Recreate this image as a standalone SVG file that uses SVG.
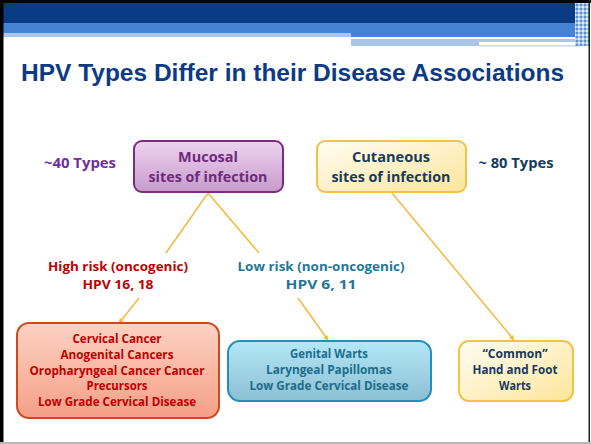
<svg xmlns="http://www.w3.org/2000/svg" width="591" height="444" viewBox="0 0 591 444">
<style>
.t{font-family:"Open Sans","Noto Sans","Liberation Sans",sans-serif;font-weight:700;text-anchor:middle}
.big{font-size:14.5px}
.sm{font-size:12.5px}
.xs{font-size:12px}
.pur{fill:#6e2a7c}
.nav{fill:#173a5c}
.red{fill:#c00000}
.teal{fill:#1f7797}
.conn{stroke:#f5b73f;stroke-width:1.5;fill:none}
</style>
<defs>
<linearGradient id="gPur" x1="0" y1="0" x2="0" y2="1"><stop offset="0" stop-color="#eed3f0"/><stop offset="1" stop-color="#c79bcb"/></linearGradient>
<linearGradient id="gYel" x1="0" y1="0" x2="1" y2="1"><stop offset="0" stop-color="#fffdf4"/><stop offset="1" stop-color="#fde59a"/></linearGradient>
<linearGradient id="gRed" x1="0" y1="0" x2="0" y2="1"><stop offset="0" stop-color="#fdd2c3"/><stop offset="1" stop-color="#f59f86"/></linearGradient>
<linearGradient id="gBlu" x1="0" y1="0" x2="0" y2="1"><stop offset="0" stop-color="#b3e8f8"/><stop offset="1" stop-color="#8cbfd2"/></linearGradient>
<marker id="arr" viewBox="0 0 10 10" refX="9" refY="5" markerWidth="5" markerHeight="5" orient="auto" markerUnits="userSpaceOnUse"><path d="M0,0 L10,5 L0,10 z" fill="#f5b73f"/></marker>
<pattern id="chk" width="4" height="4" patternUnits="userSpaceOnUse"><rect width="4" height="4" fill="#a8c3ea"/><rect width="2" height="2" fill="#5d8fd6"/><rect x="2" y="2" width="2" height="2" fill="#dfe9f7"/></pattern>
</defs>
<rect width="591" height="444" fill="#ffffff"/>
<g id="header">
<rect x="3" y="3" width="586" height="20" fill="#0a3c86"/>
<rect x="3" y="23" width="586" height="10" fill="#4584d3"/>
<rect x="3" y="33" width="348" height="4" fill="#aac5ea"/>
<rect x="351" y="33" width="225" height="4" fill="#4584d3"/>
<rect x="351" y="39" width="128" height="7" fill="#aac5ea"/>
<rect x="479" y="39" width="97" height="3" fill="#aac5ea"/>
<rect x="479" y="45" width="104" height="1.5" fill="#c8d9f1"/>
<rect x="575" y="3" width="14" height="43" fill="url(#chk)"/>
</g>
<rect x="0" y="0" width="591" height="3" fill="#000"/>
<rect x="0" y="0" width="3.5" height="444" fill="#000"/>
<rect x="588.5" y="0" width="1.5" height="444" fill="#222"/>
<rect x="0" y="442" width="591" height="2" fill="#b8b8b8"/>
<text x="21" y="81" font-family="'Liberation Sans',Arial,sans-serif" font-weight="700" font-size="24" fill="#0c3a85" textLength="543" lengthAdjust="spacingAndGlyphs">HPV Types Differ in their Disease Associations</text>
<g id="connectors">
<polyline class="conn" points="166,253 208,193 259,253"/>
<line class="conn" x1="139" y1="298" x2="119" y2="323" marker-end="url(#arr)"/>
<line class="conn" x1="298" y1="298" x2="328" y2="340" marker-end="url(#arr)"/>
<line class="conn" x1="392" y1="193" x2="514" y2="340" marker-end="url(#arr)"/>
</g>
<g id="types40"><text class="t big" x="80" y="168" fill="#7030a0" textLength="72" lengthAdjust="spacingAndGlyphs">~40 Types</text></g>
<g id="mucosal">
<rect x="134" y="141" width="149" height="51" rx="8" fill="url(#gPur)" stroke="#7a2c7e" stroke-width="2"/>
<text class="t big pur" x="208" y="162" textLength="60" lengthAdjust="spacingAndGlyphs">Mucosal</text>
<text class="t big pur" x="208" y="182" textLength="119" lengthAdjust="spacingAndGlyphs">sites of infection</text>
</g>
<g id="cutaneous">
<rect x="317" y="141" width="149" height="51" rx="8" fill="url(#gYel)" stroke="#f4c245" stroke-width="2"/>
<text class="t big nav" x="391" y="162" textLength="78" lengthAdjust="spacingAndGlyphs">Cutaneous</text>
<text class="t big nav" x="391" y="182" textLength="119" lengthAdjust="spacingAndGlyphs">sites of infection</text>
</g>
<g id="types80"><text class="t big nav" x="516" y="168" textLength="75" lengthAdjust="spacingAndGlyphs">~ 80 Types</text></g>
<g id="highrisk">
<text class="t sm red" x="118" y="271" textLength="140" lengthAdjust="spacingAndGlyphs">High risk (oncogenic)</text>
<text class="t sm red" x="118" y="289" textLength="71" lengthAdjust="spacingAndGlyphs">HPV 16, 18</text>
</g>
<g id="lowrisk">
<text class="t sm teal" x="321" y="271" textLength="167" lengthAdjust="spacingAndGlyphs">Low risk (non-oncogenic)</text>
<text class="t sm teal" x="321" y="289" textLength="71" lengthAdjust="spacingAndGlyphs">HPV 6, 11</text>
</g>
<g id="cancer">
<rect x="17" y="323" width="202" height="95" rx="12" fill="url(#gRed)" stroke="#cc4a1e" stroke-width="2"/>
<text class="t xs red" x="117" y="343" textLength="89" lengthAdjust="spacingAndGlyphs">Cervical Cancer</text>
<text class="t xs red" x="117" y="358.5" textLength="113" lengthAdjust="spacingAndGlyphs">Anogenital Cancers</text>
<text class="t xs red" x="117" y="374.5" textLength="175" lengthAdjust="spacingAndGlyphs">Oropharyngeal Cancer Cancer</text>
<text class="t xs red" x="117" y="390" textLength="61" lengthAdjust="spacingAndGlyphs">Precursors</text>
<text class="t xs red" x="117" y="406" textLength="158" lengthAdjust="spacingAndGlyphs">Low Grade Cervical Disease</text>
</g>
<g id="genital">
<rect x="228" y="341" width="203" height="60" rx="12" fill="url(#gBlu)" stroke="#2090bb" stroke-width="2"/>
<text class="t sm" x="329" y="358" fill="#1d6c8b" textLength="78" lengthAdjust="spacingAndGlyphs">Genital Warts</text>
<text class="t sm" x="329" y="374" fill="#1d6c8b" textLength="126" lengthAdjust="spacingAndGlyphs">Laryngeal Papillomas</text>
<text class="t sm" x="329" y="390" fill="#1d6c8b" textLength="159" lengthAdjust="spacingAndGlyphs">Low Grade Cervical Disease</text>
</g>
<g id="common">
<rect x="459" y="341" width="114" height="60" rx="10" fill="url(#gYel)" stroke="#f4c245" stroke-width="2"/>
<text class="t sm nav" x="515" y="358" textLength="65" lengthAdjust="spacingAndGlyphs">“Common”</text>
<text class="t sm nav" x="515" y="374" textLength="85" lengthAdjust="spacingAndGlyphs">Hand and Foot</text>
<text class="t sm nav" x="515" y="390" textLength="32" lengthAdjust="spacingAndGlyphs">Warts</text>
</g>
</svg>
